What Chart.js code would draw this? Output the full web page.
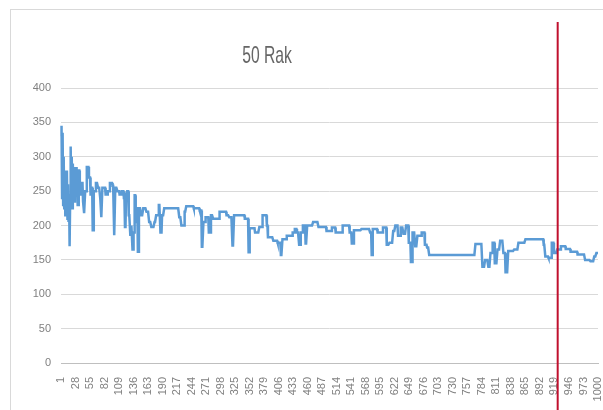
<!DOCTYPE html>
<html>
<head>
<meta charset="utf-8">
<title>50 Rak</title>
<script src="https://cdn.jsdelivr.net/npm/chart.js@4/dist/chart.umd.min.js"></script>
<style>
  body { margin: 0; background: #fff; }
  canvas { display: block; }
</style>
</head>
<body>
<canvas id="myChart" width="603" height="410"></canvas>
<script>
const chartTitle = "50 Rak";

// x categories 1..1000, only every 27th is labelled
const categories = Array.from({ length: 1000 }, (_, i) => i + 1);
const xTickLabels = [1, 28, 55, 82, 109, 136, 163, 190, 217, 244, 271, 298, 325, 352, 379, 406, 433, 460, 487,
    514, 541, 568, 595, 622, 649, 676, 703, 730, 757, 784, 811, 838, 865, 892, 919, 946, 973, 1000];
const yTicks = { min: 0, max: 400, step: 50 };

// series: value holds from each start index until the next one
const stepStarts = [1, 2, 3, 4, 5, 6, 7, 8, 9, 10, 11, 12, 13, 14, 15, 16, 17, 18, 19, 20, 21, 22, 23, 24, 25, 26, 27,
    28, 29, 30, 31, 32, 34, 36, 40, 42, 44, 46, 49,
    53, 56, 58, 60, 62, 66, 70, 74, 76, 78, 84, 88, 92, 97, 100, 102, 106, 110, 114, 118, 120, 122, 124, 127, 130,
    132, 134, 136, 138, 140, 142, 144, 146, 150, 154, 160, 165, 169, 175, 178, 183, 186, 189, 193, 221, 225, 231,
    234, 248, 259, 263, 266, 270, 276, 280, 284, 296, 309, 314, 320, 323, 343, 350, 352, 362, 370, 376, 384, 386,
    396, 404, 410, 413, 421, 432, 436, 440, 444, 447, 451, 456, 459, 470, 480, 495, 505, 512, 525, 538, 542, 546,
    560, 576, 579, 581, 590, 600, 607, 612, 619, 623, 628, 633, 638, 643, 648, 652, 655, 660, 664, 672, 678, 682,
    686, 772, 785, 790, 796, 800, 804, 808, 813, 818, 824, 828, 833, 844, 852, 865, 899, 902, 908, 914, 918, 924,
    931, 940, 949, 962, 976, 986, 993, 997];
const stepValues = [330, 345, 240, 335, 230, 300, 225, 280, 215, 270, 230, 280, 210, 260, 205, 245, 170, 235, 315,
    240, 300, 225, 290, 250, 285, 235, 275, 245, 285, 250, 270, 230, 280, 245,
    262, 235, 218, 250, 285, 270, 245, 255, 193, 250, 262, 255, 240, 212, 255, 245, 250, 262, 258, 186, 255,
    250, 245, 250, 240, 198, 245, 250, 215, 185, 200, 165, 190, 244, 205, 225, 162, 225, 215, 225, 220, 205, 198,
    205, 215, 230, 190, 215, 225, 212, 200, 220, 228, 225, 222, 169, 205, 212, 190, 215, 210, 220, 215, 212, 171,
    215, 210, 161, 196, 190, 198, 215, 200, 183, 178, 175, 157, 180, 185, 190, 195, 190, 172, 190, 200, 174, 200,
    205, 198, 192, 197, 190, 200, 190, 174, 193, 195, 190, 157, 195, 190, 197, 172, 175, 192, 200, 185, 197, 188,
    200, 175, 147, 190, 170, 185, 190, 172, 168, 157, 173, 140, 150, 140, 160, 175, 145, 165, 178, 160, 132, 163,
    165, 175, 180, 172, 155, 153, 175, 160, 165, 170, 166, 162, 158, 150, 148, 155, 160];

const markerIndex = 925;   // red vertical marker

const seriesValues = categories.map((c) => {
    let k = 0;
    while (k + 1 < stepStarts.length && stepStarts[k + 1] <= c) k++;
    return stepValues[k];
});

const chartFrame = {
    id: "chartFrame",
    beforeDraw(chart) {
        const ctx = chart.ctx;
        ctx.save();
        ctx.fillStyle = "#fff";
        ctx.fillRect(0, 0, chart.width, chart.height);
        ctx.strokeStyle = "#d9d9d9";
        ctx.lineWidth = 1;
        ctx.strokeRect(10.5, 9.5, 700, 500);

        // title, tall narrow lettering like the reference
        ctx.fillStyle = "#666666";
        ctx.font = "16px 'Liberation Sans Narrow', 'Liberation Sans', sans-serif";
        ctx.textAlign = "center";
        ctx.textBaseline = "alphabetic";
        ctx.translate(267, 63);
        ctx.scale(0.98, 1.5);
        ctx.fillText(chartTitle, 0, 0);
        ctx.restore();
    }
};

const markerLine = {
    id: "markerLine",
    afterDatasetsDraw(chart) {
        const ctx = chart.ctx;
        const x = chart.scales.x.getPixelForValue(markerIndex - 1);
        ctx.save();
        ctx.strokeStyle = "#c0102e";
        ctx.lineWidth = 2;
        ctx.beginPath();
        ctx.moveTo(x, 22);
        ctx.lineTo(x, chart.height);
        ctx.stroke();
        ctx.restore();
    }
};

const ctx = document.getElementById("myChart");

const myChart = new Chart(ctx, {
    type: "line",
    data: {
        labels: categories,
        datasets: [{
            data: seriesValues,
            borderColor: "#5b9bd5",
            borderWidth: 2.5,
            pointRadius: 0,
            tension: 0,
            fill: false
        }]
    },
    options: {
        responsive: false,
        animation: false,
        layout: { padding: { top: 88, right: 5, bottom: 0, left: 0 } },
        plugins: {
            legend: { display: false },
            title: { display: false },
            tooltip: { enabled: false }
        },
        scales: {
            x: {
                type: "category",
                grid: { display: false },
                border: { color: "#bfbfbf" },
                ticks: {
                    autoSkip: false,
                    minRotation: 90,
                    maxRotation: 90,
                    padding: 6,
                    color: "#808080",
                    font: { family: "'Liberation Sans', sans-serif", size: 11 },
                    callback: (value, index) => xTickLabels.includes(categories[index]) ? String(categories[index]) : ""
                },
                afterFit: (scale) => {
                    scale.height = 47;
                    scale.paddingLeft = 0;
                    scale.paddingRight = 0;
                }
            },
            y: {
                min: yTicks.min,
                max: yTicks.max,
                grid: { color: "#d9d9d9", drawTicks: false },
                border: { display: false },
                ticks: {
                    stepSize: yTicks.step,
                    padding: 10,
                    color: "#808080",
                    font: { family: "'Liberation Sans', sans-serif", size: 11 }
                },
                afterFit: (scale) => { scale.width = 61; }
            }
        }
    },
    plugins: [chartFrame, markerLine]
});
</script>
</body>
</html>
